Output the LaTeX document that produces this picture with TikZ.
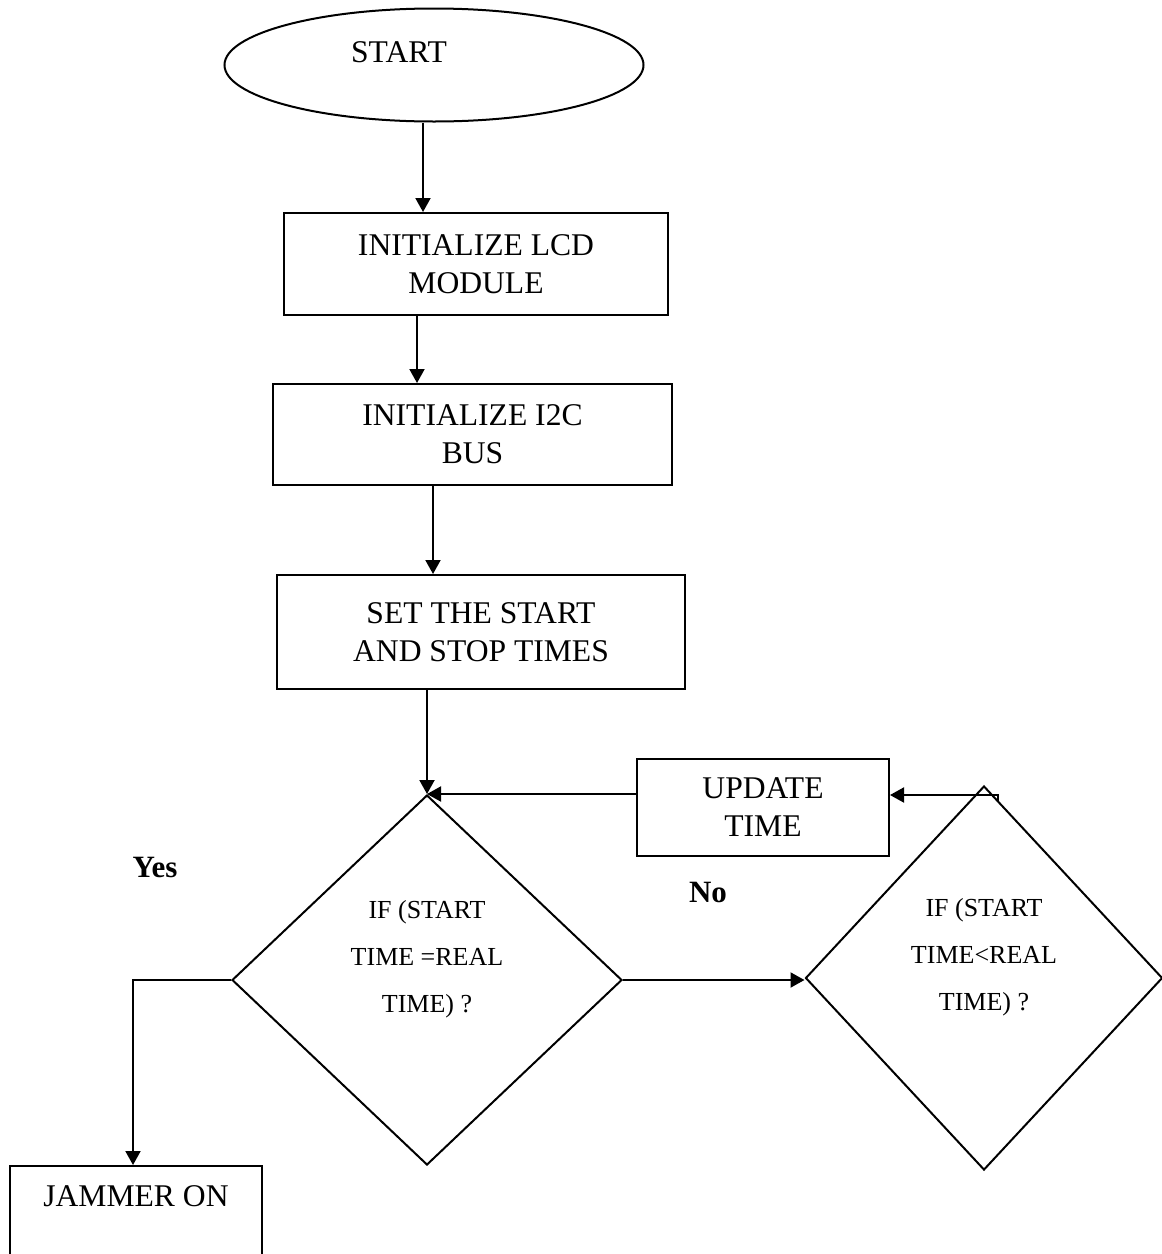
\documentclass[tikz,border=0pt]{standalone}
\usepackage{fontspec}
\setmainfont{Liberation Serif}
\usetikzlibrary{shapes.geometric,arrows.meta}

\begin{document}
\begin{tikzpicture}[
		x=0.5pt, y=-0.5pt
		,line width=1pt
		,every node/.append style={font=\fontsize{15.8}{19}\selectfont, align=center}
		,box/.style={rectangle, draw}
		,term/.style={ellipse, draw}
		,dec/.style={diamond, draw, font=\fontsize{13}{23.5}\selectfont}
		,lbl/.style={font=\fontsize{15.5}{18}\selectfont\bfseries}
		,arr/.style={-{Triangle[length=7pt, width=7.5pt]}}
	]
		\useasboundingbox (0,0) rectangle (1162,1254);

		\node [term, minimum width=209.5pt, minimum height=56.5pt, text depth=13pt] (start) at (434,65) {START\hspace*{35pt}};
		\node [box, minimum width=192pt, minimum height=51pt] (lcd) at (476,264) {INITIALIZE LCD\\MODULE};
		\node [box, minimum width=199.5pt, minimum height=50.5pt] (bus) at (472.5,434.5) {INITIALIZE I2C\\BUS};
		\node [box, minimum width=204pt, minimum height=57pt] (times) at (481,632) {SET THE START\\AND STOP TIMES};
		\node [box, minimum width=126pt, minimum height=48.5pt] (update) at (763,807.5) {UPDATE\\TIME};
		\node [dec, minimum width=195pt, minimum height=185pt] (eq) at (427,980) {IF (START\\TIME =REAL\\TIME) ?\\\mbox{}};
		\node [dec, minimum width=178.5pt, minimum height=192pt] (less) at (984,978) {IF (START\\TIME<REAL\\TIME) ?\\\mbox{}};
		\node [box, anchor=north, minimum width=126pt, inner ysep=9.8pt, text depth=30pt] (jam) at (136,1165) {JAMMER ON};
		\node [lbl] (yes) at (155,867) {Yes};
		\node [lbl] (no) at (708,892) {No};
		\coordinate (back) at (998,795);

		\draw [arr] ([xshift=-5.5pt]start.south) -- ([xshift=-5.5pt]start.south |- lcd.north);
		\draw [arr] ([xshift=-29.5pt]lcd.south) -- ([xshift=-29.5pt]lcd.south |- bus.north);
		\draw [arr] ([xshift=-19.75pt]bus.south) -- ([xshift=-19.75pt]bus.south |- times.north);
		\draw [arr] (times.south -| eq.north) -- (eq.north);
		\draw [arr] (eq.north -| update.west) -- (eq.north);
		\draw [arr] ([yshift=-3pt]back) -- (back) -- (back -| update.east);
		\draw [arr] (eq.east) -- (eq.east -| less.west);
		\draw [arr] (eq.west) -| ([xshift=-1.5pt]jam.north);
	\end{tikzpicture}
\end{document}
